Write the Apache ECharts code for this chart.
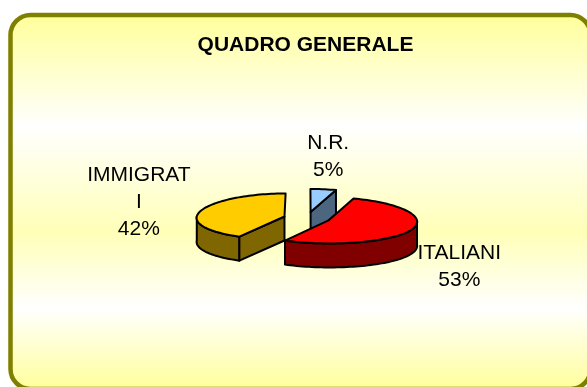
<!DOCTYPE html>
<html>
<head>
<meta charset="utf-8">
<title>Quadro generale</title>
<script src="https://cdn.jsdelivr.net/npm/echarts@6/dist/echarts.min.js"></script>
<style>
  html, body { margin: 0; padding: 0; background: #ffffff; }
  #chart { width: 587px; height: 387px; }
</style>
</head>
<body>
<div id="chart"></div>
<script>
// Slices, in drawing order clockwise from twelve o'clock
const categories = ['N.R.', 'ITALIANI', 'IMMIGRATI'];
const values = [5, 53, 42];
const topColors = ['#99CCFF', '#FF0000', '#FFCC00'];
const sideColors = ['#4D6680', '#800000', '#806600'];

// 3D pie geometry (flattened ellipse with a little perspective)
const CX = 307, CY = 218;      // centre of the top face
const RX = 88, RY = 23;        // radii of the top ellipse
const DEPTH = 24;              // slice thickness
const EXPLODE = 0.265;         // radial offset of each slice, in radius units
const PERSP = 0.05;            // widening towards the viewer
const LABEL_GAP = 10, LABEL_RY = 62, LABEL_WIDTH = 108;

const FONT = '"Liberation Sans", Arial, sans-serif';
const LABEL_SIZE = 21;
const total = values.reduce((a, b) => a + b, 0);
const starts = [];
values.reduce((acc, v, i) => { starts[i] = acc; return acc + v; }, 0);

const rad = d => d * Math.PI / 180;

// width of a label block, for placing it beside its slice
const measureCtx = document.createElement('canvas').getContext('2d');
measureCtx.font = LABEL_SIZE + 'px ' + FONT;
function blockWidth(lines) {
  return Math.min(LABEL_WIDTH, Math.max.apply(null, lines.map(s => measureCtx.measureText(s).width)));
}

function project(u, v, dz) {
  return [CX + RX * u * (1 + PERSP * v), CY + RY * v + dz];
}

function renderSlice(params, api) {
  const i = params.dataIndex;
  const value = api.value(0);
  const a = 360 * starts[i] / total;
  const b = 360 * (starts[i] + value) / total;
  const m = (a + b) / 2;
  const eu = EXPLODE * Math.sin(rad(m));
  const ev = -EXPLODE * Math.cos(rad(m));
  const rim = (t, dz) => project(eu + Math.sin(rad(t)), ev - Math.cos(rad(t)), dz);
  const centre = dz => project(eu, ev, dz);
  const arc = (t0, t1, dz) => {
    const pts = [];
    const n = Math.max(2, Math.ceil((t1 - t0) / 2));
    for (let k = 0; k <= n; k++) pts.push(rim(t0 + (t1 - t0) * k / n, dz));
    return pts;
  };
  const edge = { stroke: '#000000', lineWidth: 2, lineJoin: 'round' };
  const z = Math.round(-Math.cos(rad(m)) * 100) + 200;
  const children = [];

  // outer wall: the part facing the viewer
  const w0 = Math.max(a, 90), w1 = Math.min(b, 270);
  if (w1 > w0) {
    const pts = arc(w0, w1, 0).concat(arc(w0, w1, DEPTH).reverse());
    children.push({ type: 'polygon', z2: z, shape: { points: pts },
      style: Object.assign({ fill: sideColors[i] }, edge) });
  }
  // cut faces turned towards the viewer
  if (Math.sin(rad(a)) < -1e-6) {
    children.push({ type: 'polygon', z2: z, shape: { points: [centre(0), rim(a, 0), rim(a, DEPTH), centre(DEPTH)] },
      style: Object.assign({ fill: sideColors[i] }, edge) });
  }
  if (Math.sin(rad(b)) > 1e-6) {
    children.push({ type: 'polygon', z2: z, shape: { points: [centre(0), rim(b, 0), rim(b, DEPTH), centre(DEPTH)] },
      style: Object.assign({ fill: sideColors[i] }, edge) });
  }
  // top face
  children.push({ type: 'polygon', z2: z + 1, shape: { points: [centre(0)].concat(arc(a, b, 0)) },
    style: Object.assign({ fill: topColors[i] }, edge) });

  // data label, set just outside the slice
  const pct = Math.round(value / total * 100) + '%';
  const w = blockWidth([categories[i], pct]);
  const front = -Math.cos(rad(m)) > 0;
  const lx = rim(m, 0)[0] + Math.sin(rad(m)) * (LABEL_GAP + w / 2);
  const ly = CY - LABEL_RY * Math.cos(rad(m)) + (front ? DEPTH : 0);
  children.push({ type: 'text', z2: 500, x: lx, y: ly,
    style: { text: categories[i] + '\n' + pct, fill: '#000000', fontSize: LABEL_SIZE, fontFamily: FONT,
      align: 'center', verticalAlign: 'middle', lineHeight: 27, width: LABEL_WIDTH, overflow: 'breakAll' } });

  return { type: 'group', children };
}

const chart = echarts.init(document.getElementById('chart'), null, { renderer: 'canvas' });
chart.setOption({
  animation: false,
  backgroundColor: '#ffffff',
  graphic: [{
    type: 'rect', z: -10, silent: true,
    shape: { x: 10.5, y: 15, width: 580, height: 374, r: 20 },
    style: {
      fill: { type: 'linear', x: 0, y: 0, x2: 0, y2: 1, colorStops: [
        { offset: 0, color: '#FFFF99' },
        { offset: 0.3, color: '#FFFFFF' },
        { offset: 0.58, color: '#FFFFB8' },
        { offset: 0.78, color: '#FFFFFF' },
        { offset: 1, color: '#FFFF99' }
      ] },
      stroke: '#808000', lineWidth: 4.5
    }
  }],
  title: {
    text: 'QUADRO GENERALE',
    left: 300.5, top: 30, textAlign: 'center',
    textStyle: { fontSize: 21, fontWeight: 'bold', fontFamily: FONT, color: '#000000' }
  },
  series: [{
    type: 'custom',
    coordinateSystem: 'none',
    renderItem: renderSlice,
    data: values.map((v, i) => ({ name: categories[i], value: [v] }))
  }]
});
</script>
</body>
</html>
